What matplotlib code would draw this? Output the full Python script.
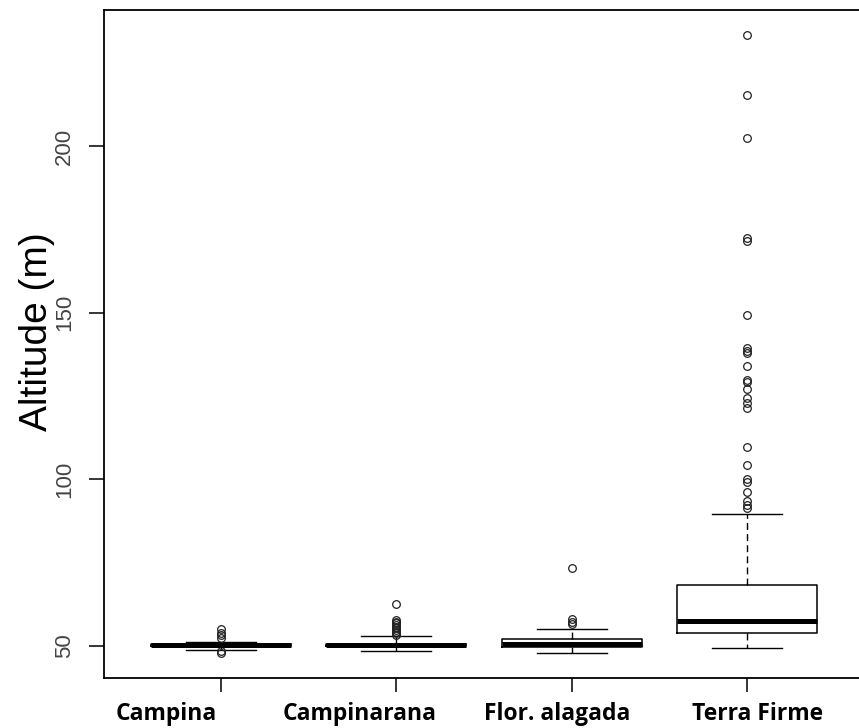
import matplotlib
matplotlib.use("Agg")
import matplotlib.pyplot as plt
import matplotlib.transforms as mtransforms

# Altitude summaries per vegetation type (five-number summary + outliers)
categories = ["Campina", "Campinarana", "Flor. alagada", "Terra Firme"]
whisker_low = [48.8, 48.6, 48.0, 49.3]
q1 = [49.9, 49.9, 49.8, 54.0]
median = [50.2, 50.2, 50.5, 57.6]
q3 = [50.6, 50.5, 52.0, 68.3]
whisker_high = [51.1, 53.0, 55.0, 89.7]
outliers = [
    [55.0, 54.0, 53.2, 52.3, 48.4, 48.0],
    [62.5, 57.8, 57.3, 56.8, 56.3, 55.8, 55.3, 54.8, 54.3, 53.8, 53.4],
    [73.3, 58.1, 57.3, 56.6],
    [233.4, 215.3, 202.5, 172.5, 171.5, 149.3, 139.4, 138.5, 137.9, 134.0,
     129.8, 129.2, 127.0, 124.5, 122.9, 121.4, 109.8, 104.2, 100.1, 99.2,
     96.3, 93.5, 92.3, 91.3],
]
yticks = [50, 100, 150, 200]
label_pos = [0.69, 1.79, 2.92, 4.06]

stats = []
for i, name in enumerate(categories):
    stats.append({
        "label": name,
        "whislo": whisker_low[i],
        "q1": q1[i],
        "med": median[i],
        "q3": q3[i],
        "whishi": whisker_high[i],
        "fliers": outliers[i],
    })

fig = plt.figure(figsize=(8.59, 7.28), dpi=100)
ax = fig.add_axes([104 / 859, 50 / 728, 760 / 859, 668 / 728])

ax.bxp(stats, positions=range(1, 5), widths=0.8, capwidths=0.4,
       boxprops=dict(color="black", linewidth=1.1),
       medianprops=dict(color="black", linewidth=3.6, solid_capstyle="butt"),
       whiskerprops=dict(color="black", linewidth=1.0, linestyle=(0, (5, 3))),
       capprops=dict(color="black", linewidth=1.0),
       flierprops=dict(marker="o", markerfacecolor="none", markeredgecolor="#222222",
                       markersize=5.5, markeredgewidth=0.9))

ax.set_xlim(0.333, 4.667)
ax.set_ylim(40.4, 240.8)

ax.set_yticks(yticks)
ax.set_yticklabels([str(v) for v in yticks], rotation=90, va="center",
                   fontsize=16, family="Liberation Sans", color="#444444")
ax.tick_params(axis="y", length=11, width=1.1, pad=10)
ax.set_xticks(range(1, 5))
ax.set_xticklabels([])
ax.tick_params(axis="x", length=10, width=1.1)

for side in ["left", "bottom", "top", "right"]:
    ax.spines[side].set_linewidth(1.3)

# group names under the axis
trans = mtransforms.blended_transform_factory(ax.transData, fig.transFigure)
for x, name in zip(label_pos, categories):
    fig.text(x, 8 / 728, name, transform=trans, ha="center", va="baseline",
             fontsize=16.5, fontweight="bold", family="Open Sans")

fig.text(37 / 859, 0.545, "Altitude (m)", rotation=90, ha="center", va="center",
         fontsize=28, family="Liberation Sans")

fig.savefig("out.png", dpi=100)
